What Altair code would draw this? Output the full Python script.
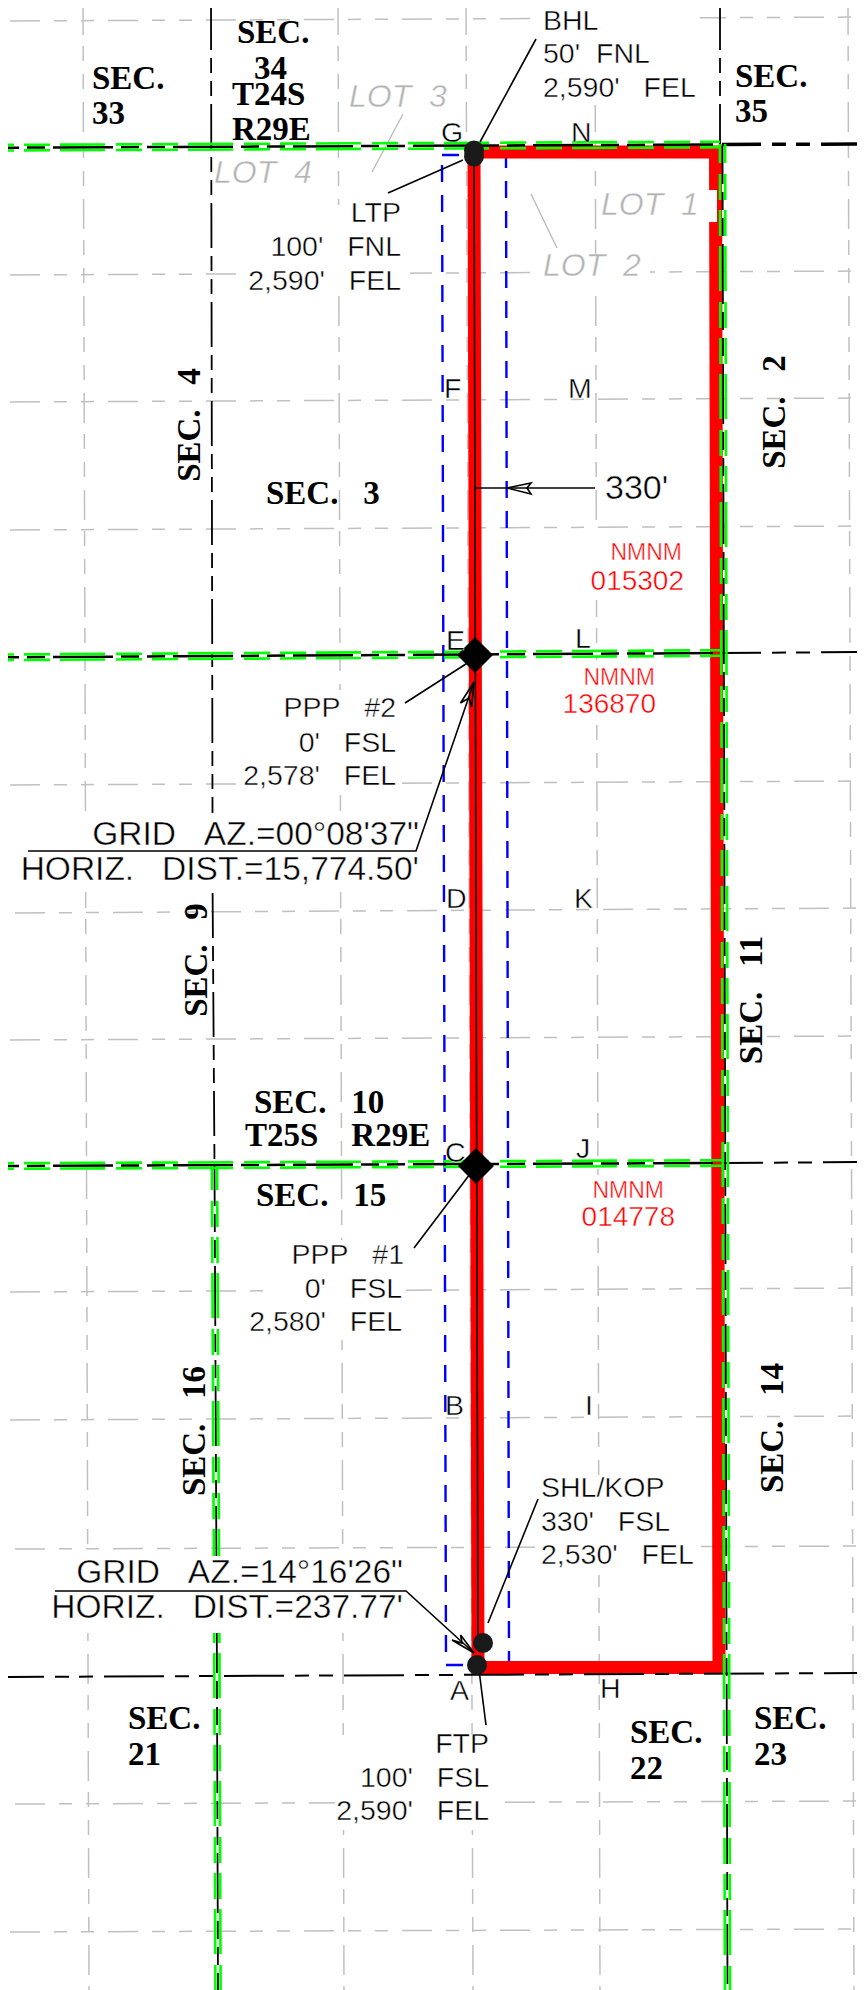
import altair as alt
import pandas as pd

# Map units equal reference pixels.
XDOM = [8, 857]
YDOM = [1990, 8]
W, H = 849, 1982

grid_h = [[(10,21),(865,17)],[(10,275),(865,271)],[(10,402),(865,398)],[(10,530),(865,526)],
          [(10,785),(865,781)],[(15,913),(865,908)],[(10,1040),(865,1036)],[(10,1292),(865,1288)],
          [(10,1420),(865,1416)],[(15,1549),(865,1546)],[(15,1804),(865,1801)],[(10,1932),(865,1929)]]
grid_v = [[(83,5),(89,1990)],[(338,5),(344,1990)],[(466,5),(473,1990)],[(595,5),(600,1990)],[(848,5),(854,1990)]]

masks = [(245,410,205,295),(240,400,690,795),(540,700,5,105),(270,406,1240,1340),(538,700,1475,1575),
         (335,492,1735,1830),(540,650,255,285),(600,717,190,222),(345,455,85,112),(212,320,160,186),
         (580,690,530,600),(555,660,660,720),(575,680,1175,1235),(600,700,470,510),
         (20,420,815,892),(55,405,1556,1633)]

red_outline = [[(474,152),(715.5,152),(719,1667.5),(478,1667.5),(474,152)]]
blue_box = [[(442,155),(506,155),(509,1665),(446,1665),(442,155)]]

green_h = [[(5,147.7),(720,144.5)],[(5,657.3),(720,653)],[(5,1166),(722,1163)]]
green_v_left = [[(214.5,1166),(216.4,1556)]]
green_v_left2 = [[(216.8,1633),(218,1990)]]
green_v_right = [[(722.5,144),(727.5,1990)]]

black_h = green_h
black_right_thin = [[(722,653),(865,652)],[(724,1163),(865,1162)],[(5,1677),(865,1673)]]
black_right_thick = [[(722,144.5),(865,144)]]
black_v_top = [[(211,5),(212.5,813)],[(212.6,893),(214.5,1166)],[(720,5),(720,144)]]
black_v_low = [[(214.5,1166),(216.4,1556)],[(216.8,1633),(218,1990)],[(722.5,144),(727.5,1990)]]

leaders = [[(474,158),(478,1650)],
           [(536,39),(480,142)],[(388,193),(463,160)],[(405,703),(469,662)],
           [(414,1248),(470,1174)],[(538,1499),(488,1623)],[(479,1670),(486,1725)],
           [(28,851),(416,851),(474,682)],[(55,1591),(406,1591),(474,1653)],
           [(475,488),(595,488)]]
arrows = [[(507,488),(531,483),(527,488),(531,494),(507,488)],
          [(474,682),(460.5,703),(469,698),(471.6,707),(474,682)],
          [(474,1653),(460.6,1635),(462,1643),(452,1640),(474,1653)]]
lot_leaders = [[(403,114),(372,172)],[(531,194),(557,248)]]

round_x = [474,474,483,477]
round_y = [150.5,156.5,1643,1665]
diamond_x = [475,476]
diamond_y = [655,1166]

S = "\u00a0\u00a0"
S3 = "\u00a0\u00a0\u00a0"
S4 = "\u00a0\u00a0\u00a0\u00a0"
serif_text = ["SEC.","33","SEC.","34","T24S","R29E","SEC.","35","SEC."+S3+"3","SEC."+S3+"10",
              "T25S"+S4+"R29E","SEC."+S3+"15","SEC.","21","SEC.","22","SEC.","23"]
serif_x = [92,92,237,254,232,232,735,735,266,254,245,256,128,128,630,630,754,754]
serif_y = [89,124,43,79,105,140,87,122,504,1113,1146,1206,1729,1765,1743,1779,1729,1765]

rot_text = ["SEC."+S3+"4","SEC."+S3+"2","SEC."+S3+"9","SEC."+S3+"11","SEC."+S3+"16","SEC."+S3+"14"]
rot_x = [200,785,207,762,205,783]
rot_y = [425,412,960,1000,1431,1428]

left_text = ["BHL","50'"+S+"FNL","2,590'"+S3+"FEL","SHL/KOP","330'"+S3+"FSL","2,530'"+S3+"FEL",
             "G","N","F","M","E","L","D","K","C","J","B","I","A","H"]
left_x = [543,543,543,541,541,541,441,571,444,568,446,575,446,574,445,576,445,585,450,600]
left_y = [30,63,97,1497,1531,1564,142,142,398,398,650,648,908,908,1162,1158,1415,1415,1700,1698]

right_text = ["LTP","100'"+S3+"FNL","2,590'"+S3+"FEL","PPP"+S3+"#2","0'"+S3+"FSL","2,578'"+S3+"FEL",
              "PPP"+S3+"#1","0'"+S3+"FSL","2,580'"+S3+"FEL","FTP","100'"+S3+"FSL","2,590'"+S3+"FEL"]
right_x = [401,401,401,396,396,396,404,402,402,489,489,489]
right_y = [222,256,290,717,752,785,1264,1298,1331,1753,1787,1820]

long_text = ["GRID"+S3+"AZ.=00\u00b008'37\"","HORIZ."+S3+"DIST.=15,774.50'",
             "GRID"+S3+"AZ.=14\u00b016'26\"","HORIZ."+S3+"DIST.=237.77'"]
long_x = [419,419,403,403]
long_y = [845,880,1583,1618]

dim_text = ["330'"]
dim_x = [605]
dim_y = [499]

red_word = ["NMNM","NMNM","NMNM"]
red_word_x = [682,655,664]
red_word_y = [560,685,1198]
red_num = ["015302","136870","014778"]
red_num_x = [684,656,675]
red_num_y = [590,713,1226]

lot_text = ["LOT"+S+"3","LOT"+S+"4","LOT"+S+"1","LOT"+S+"2"]
lot_x = [349,214,601,543]
lot_y = [107,183,215,276]

xs = alt.Scale(domain=XDOM, nice=False, zero=False, padding=0)
ys = alt.Scale(domain=YDOM, nice=False, zero=False, padding=0)
X = lambda f="x": alt.X(f"{f}:Q", scale=xs, axis=None)
Y = lambda f="y": alt.Y(f"{f}:Q", scale=ys, axis=None)

def lines(polys, **mark):
    rows = []
    for k, poly in enumerate(polys):
        for i, (a, b) in enumerate(poly):
            rows.append({"id": k, "i": i, "x": a, "y": b})
    return alt.Chart(pd.DataFrame(rows)).mark_line(clip=False, **mark).encode(
        x=X(), y=Y(), detail="id:N", order="i:Q")

def offset(polys, dx, dy):
    return [[(a + dx, b + dy) for a, b in p] for p in polys]

def texts(t, x, y, **mark):
    df = pd.DataFrame({"t": t, "x": x, "y": y})
    return alt.Chart(df).mark_text(baseline="alphabetic", **mark).encode(x=X(), y=Y(), text="t:N")

GRAY = "#c0c0c0"
GREEN = "#00ff00"
THIN = dict(stroke="#ffffff", strokeWidth=0.45)
SANS = dict(font="Liberation Sans", fontSize=28.5, color="#000000", **THIN)
SERIF = dict(font="Liberation Serif", fontWeight="bold", fontSize=33, color="#000000")
GDASH = [45, 11, 26, 10, 26, 10]
BDASH = [60, 8, 18, 8, 18, 8]

mask_df = pd.DataFrame(masks, columns=["x", "x2", "y", "y2"])
mask_layer = alt.Chart(mask_df).mark_rect(color="#ffffff").encode(
    x=X(), x2="x2:Q", y=Y(), y2="y2:Q")

pts_round = alt.Chart(pd.DataFrame({"x": round_x, "y": round_y})).mark_point(
    shape="circle", filled=True, size=400, color="#1a1a1a", opacity=1).encode(x=X(), y=Y())
pts_diamond = alt.Chart(pd.DataFrame({"x": diamond_x, "y": diamond_y})).mark_point(
    shape="diamond", filled=True, size=1300, color="#000000", opacity=1).encode(x=X(), y=Y())

layers = [
    lines(grid_h, color=GRAY, strokeWidth=1.5, strokeDash=[30, 14, 13, 14, 13, 14]),
    lines(grid_v, color=GRAY, strokeWidth=1.5, strokeDash=[30, 11, 15, 13, 15, 13]),
    lines(blue_box, color="#0000ff", strokeWidth=2.4, strokeDash=[17, 13]),
    lines(red_outline, color="#ff0000", strokeWidth=13, strokeJoin="miter", strokeCap="butt"),
    mask_layer,
    lines(lot_leaders, color="#b4b4b4", strokeWidth=1.2),
    lines(black_v_top, color="#000000", strokeWidth=1.8, strokeDash=[45, 8, 15, 8, 15, 8]),
    lines(black_right_thin, color="#000000", strokeWidth=2, strokeDash=[60, 11, 14, 10, 14, 11], strokeDashOffset=21),
    lines(black_right_thick, color="#000000", strokeWidth=3.5, strokeDash=[60, 11, 14, 10, 14, 11], strokeDashOffset=21),
    lines(black_h, color="#000000", strokeWidth=2.5, strokeDash=BDASH, strokeDashOffset=72),
    lines(black_v_low, color="#000000", strokeWidth=1.8, strokeDash=BDASH, strokeDashOffset=20),
]
for dy in (-2.8, 2.8):
    layers.append(lines(offset(green_h, 0, dy), color=GREEN, strokeWidth=2.6, strokeDash=GDASH, strokeDashOffset=73))
for dx in (-2.6, 2.6):
    layers.append(lines(offset(green_v_left, dx, 0), color=GREEN, strokeWidth=2.6, strokeDash=GDASH, strokeDashOffset=21))
    layers.append(lines(offset(green_v_left2, dx, 0), color=GREEN, strokeWidth=2.6, strokeDash=GDASH, strokeDashOffset=108))
    layers.append(lines(offset(green_v_right, dx, 0), color=GREEN, strokeWidth=2.6, strokeDash=GDASH, strokeDashOffset=26))
layers += [
    lines(leaders, color="#000000", strokeWidth=1.6),
    lines(arrows, color="#000000", strokeWidth=1.6),
    pts_round, pts_diamond,
    texts(serif_text, serif_x, serif_y, align="left", **SERIF),
    texts(rot_text, rot_x, rot_y, align="center", angle=270, **SERIF),
    texts(left_text, left_x, left_y, align="left", **SANS),
    texts(right_text, right_x, right_y, align="right", **SANS),
    texts(long_text, long_x, long_y, align="right", font="Liberation Sans", fontSize=33.5, color="#000000", **THIN),
    texts(dim_text, dim_x, dim_y, align="left", font="Liberation Sans", fontSize=34, color="#000000", **THIN),
    texts(red_word, red_word_x, red_word_y, align="right", font="Liberation Sans", fontSize=23, color="#ff0000", **THIN),
    texts(red_num, red_num_x, red_num_y, align="right", font="Liberation Sans", fontSize=28, color="#ff0000", **THIN),
    texts(lot_text, lot_x, lot_y, align="left", font="Liberation Sans", fontStyle="italic", fontSize=32, color="#b4b4b4", **THIN),
]

chart = alt.layer(*layers).properties(
    width=W, height=H, padding=0, background="#ffffff",
    autosize=alt.AutoSizeParams(type="none")
).configure_view(stroke=None)

chart.save("out.html", embed_options={"renderer": "svg", "actions": False})
